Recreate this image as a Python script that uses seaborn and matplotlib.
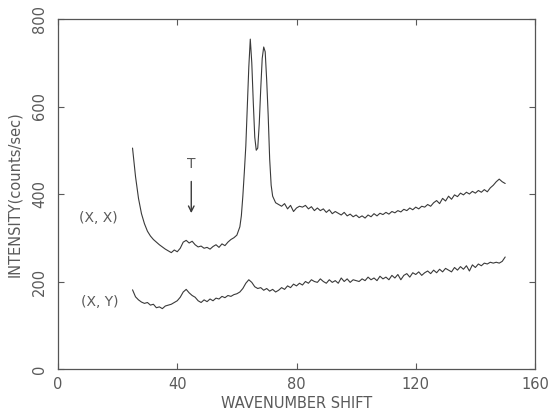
import numpy as np
import pandas as pd
import matplotlib as mpl
mpl.use('Agg')
import matplotlib.pyplot as plt
import seaborn as sns

# (X, X) spectrum
xx_shift = [25, 26, 27, 28, 29, 30, 31, 32, 33, 34, 35, 36, 37, 38, 39, 40,
            41, 42, 43, 44, 45, 46, 47, 48, 49, 50, 51, 52, 53, 54, 55, 56,
            57, 58, 59, 60, 61, 61.5, 62, 62.5, 63, 63.5, 64, 64.5, 65, 65.5,
            66, 66.5, 67, 67.5, 68, 68.5, 69, 69.5, 70, 70.5, 71, 71.5, 72,
            73, 74, 75, 76, 77, 78, 79, 80, 81, 82, 83, 84, 85, 86, 87, 88,
            89, 90, 91, 92, 93, 94, 95, 96, 97, 98, 99, 100, 101, 102, 103,
            104, 105, 106, 107, 108, 109, 110, 111, 112, 113, 114, 115, 116,
            117, 118, 119, 120, 121, 122, 123, 124, 125, 126, 127, 128, 129,
            130, 131, 132, 133, 134, 135, 136, 137, 138, 139, 140, 141, 142,
            143, 144, 145, 146, 147, 148, 149, 150]
xx_counts = [505, 440, 390, 355, 332, 315, 304, 296, 290, 284, 279, 274, 270,
             266, 272, 268, 276, 290, 294, 288, 292, 284, 279, 281, 276, 278,
             274, 280, 284, 278, 286, 282, 290, 296, 300, 306, 325, 350, 395,
             450, 510, 600, 690, 754, 700, 610, 530, 500, 505, 560, 640, 710,
             736, 725, 660, 580, 480, 420, 395, 380, 376, 372, 378, 366, 374,
             360, 368, 372, 370, 374, 366, 371, 362, 368, 362, 366, 358, 364,
             355, 360, 356, 352, 358, 350, 354, 348, 352, 346, 350, 345, 352,
             348, 355, 350, 356, 353, 358, 354, 360, 357, 362, 359, 365, 362,
             368, 364, 370, 366, 372, 370, 376, 372, 380, 385, 378, 390, 384,
             395, 388, 398, 394, 402, 398, 404, 400, 406, 402, 408, 404, 410,
             405, 414, 420, 428, 434, 428, 424]

# (X, Y) spectrum
xy_shift = list(range(25, 151))
xy_counts = [181, 165, 158, 153, 150, 152, 146, 148, 140, 142, 138, 144, 146,
             148, 152, 156, 164, 176, 182, 174, 168, 164, 156, 152, 158, 154,
             160, 156, 162, 160, 166, 163, 168, 166, 170, 172, 176, 184, 196,
             204, 198, 188, 184, 186, 180, 184, 178, 182, 176, 180, 186, 182,
             190, 186, 194, 190, 196, 192, 200, 196, 204, 200, 198, 206, 200,
             196, 204, 198, 202, 196, 208, 200, 206, 198, 204, 202, 200, 206,
             202, 210, 204, 208, 202, 212, 206, 210, 204, 214, 208, 216, 204,
             214, 218, 210, 220, 216, 222, 214, 220, 224, 218, 226, 220, 228,
             222, 230, 226, 222, 232, 226, 234, 228, 236, 224, 238, 232, 240,
             236, 242, 240, 244, 242, 244, 242, 246, 256]

x_ticks = [0, 40, 80, 120, 160]
y_ticks = [0, 200, 400, 600, 800]

ink = '#3a3a3a'
txt = '#5a5a5a'

sns.set_style("ticks")
plt.rcParams['font.family'] = ['DejaVu Sans']

fig = plt.figure(figsize=(5.49, 4.16), dpi=100)
ax = fig.add_axes([58/549, 1 - 369/416, (535 - 58)/549, (369 - 19)/416])

df_xx = pd.DataFrame({'shift': xx_shift, 'counts': xx_counts})
df_xy = pd.DataFrame({'shift': xy_shift, 'counts': xy_counts})
sns.lineplot(data=df_xx, x='shift', y='counts', ax=ax, color=ink, lw=0.8)
sns.lineplot(data=df_xy, x='shift', y='counts', ax=ax, color=ink, lw=0.8)

ax.set_xlim(0, 160)
ax.set_ylim(0, 800)
ax.set_xticks(x_ticks)
ax.set_yticks(y_ticks)
ax.set_yticklabels([str(v) for v in y_ticks], rotation=90, va='center')
ax.tick_params(direction='in', top=True, right=True, length=4, width=0.8,
               colors=txt, labelsize=10.5, pad=6)
ax.tick_params(axis='y', pad=8)
for s in ax.spines.values():
    s.set_color('#555555')
    s.set_linewidth(0.9)

ax.set_xlabel("WAVENUMBER SHIFT", fontsize=10.5, color=txt, labelpad=3)
ax.set_ylabel("INTENSITY(counts/sec)", fontsize=10.5, color=txt, labelpad=7)

ax.text(13.4, 345, "(X, X)", fontsize=10, color=txt, ha='center', va='center')
ax.text(14.1, 153, "(X, Y)", fontsize=10, color=txt, ha='center', va='center')
ax.text(44.7, 468, "T", fontsize=10, color=txt, ha='center', va='center')
ax.annotate("", xy=(44.7, 350), xytext=(44.7, 435),
            arrowprops=dict(arrowstyle='->', color=ink, lw=1))

plt.savefig("out.png", dpi=100)
